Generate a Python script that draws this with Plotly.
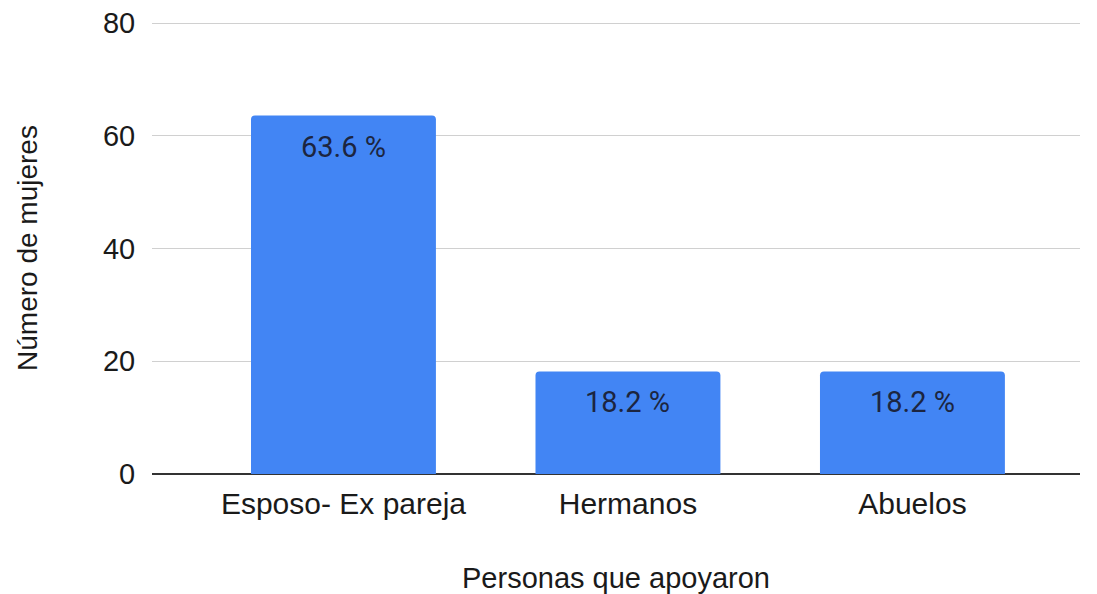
import plotly.graph_objects as go

# data
categorias = ["Esposo- Ex pareja", "Hermanos", "Abuelos"]
valores = [63.6, 18.2, 18.2]
etiquetas = ["63.6 %", "18.2 %", "18.2 %"]
y_ticks = [0, 20, 40, 60, 80]

fig = go.Figure()

fig.add_trace(go.Bar(
    x=categorias,
    y=valores,
    marker=dict(color="#4285F4", line=dict(width=0)),
    hoverinfo="skip",
))

# labels sit a little below the top of each bar
for c, v, t in zip(categorias, valores, etiquetas):
    fig.add_annotation(
        x=c, y=v, text=t, showarrow=False,
        yanchor="middle", yshift=-31,
        font=dict(family="Roboto", size=29, color="#1c2540"),
    )

fig.update_layout(
    width=1097, height=594,
    margin=dict(l=152, r=17, t=22, b=120),
    paper_bgcolor="white",
    plot_bgcolor="white",
    bargap=0.35,
    barcornerradius=4,
    showlegend=False,
    font=dict(family="Liberation Sans, Arial", size=28, color="#1a1a1a"),
)

fig.update_xaxes(
    range=[-0.673, 2.589],
    automargin=False,
    showgrid=False,
    showline=False,
    ticks="",
    ticklabelstandoff=9,
    tickfont=dict(size=30),
    title=dict(text="Personas que apoyaron", standoff=51,
               font=dict(size=29)),
)

fig.update_yaxes(
    range=[0, 80.2],
    automargin=False,
    tickvals=y_ticks,
    showgrid=True,
    gridcolor="#d0d0d0",
    gridwidth=1,
    zeroline=True,
    zerolinecolor="#333333",
    zerolinewidth=2,
    showline=False,
    ticks="outside",
    ticklen=10,
    tickcolor="rgba(0,0,0,0)",
    ticklabeloverflow="allow",
    tickfont=dict(size=29),
    title=dict(text="Número de mujeres", standoff=57,
               font=dict(size=28)),
)

# drop the default 8px page margin so the figure fills the window
fig.write_html("out.html",
               config={"displayModeBar": False},
               post_script="document.body.style.margin='0';")
